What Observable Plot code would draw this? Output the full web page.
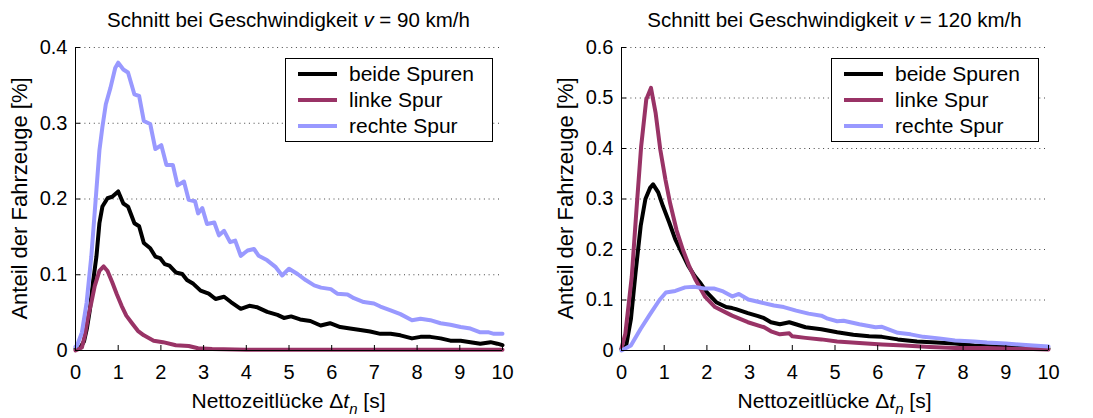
<!DOCTYPE html>
<html>
<head>
<meta charset="utf-8">
<script src="https://cdn.jsdelivr.net/npm/d3@7"></script>
<script src="https://cdn.jsdelivr.net/npm/@observablehq/plot@0.6"></script>
<style>
  body { margin: 0; background: #fff; }
  #charts { display: flex; width: 1093px; height: 418px; }
  svg text { font-family: "Liberation Sans", Arial, sans-serif; }
</style>
</head>
<body>
<div id="charts"></div>
<script>
// Lanes and their line colours
const lanes = ["beide Spuren", "linke Spur", "rechte Spur"];
const laneColors = ["#000000", "#993366", "#9999ff"];

// Tick values
const xTicks = [0, 1, 2, 3, 4, 5, 6, 7, 8, 9, 10];
const yTicks90 = [0, 0.1, 0.2, 0.3, 0.4];
const yTicks120 = [0, 0.1, 0.2, 0.3, 0.4, 0.5, 0.6];

// v = 90 km/h : share of vehicles [%] over net time gap [s]
const t90Beide = [0, 0.1, 0.2, 0.27, 0.34, 0.41, 0.49, 0.56, 0.63, 0.75, 0.86, 1.0, 1.12, 1.23, 1.38, 1.49, 1.6, 1.75, 1.87, 1.98, 2.09, 2.2, 2.35, 2.5, 2.61, 2.76, 2.93, 3.12, 3.28, 3.48, 3.64, 3.87, 4.07, 4.26, 4.49, 4.73, 4.88, 5.05, 5.26, 5.5, 5.74, 5.96, 6.2, 6.43, 6.67, 6.9, 7.14, 7.38, 7.61, 7.88, 8.08, 8.31, 8.55, 8.78, 9.02, 9.25, 9.48, 9.72, 9.88, 10];
const v90Beide = [0.002, 0.003, 0.012, 0.03, 0.055, 0.09, 0.124, 0.168, 0.19, 0.201, 0.203, 0.21, 0.194, 0.19, 0.168, 0.164, 0.142, 0.135, 0.124, 0.122, 0.114, 0.112, 0.103, 0.101, 0.093, 0.088, 0.079, 0.075, 0.068, 0.071, 0.064, 0.055, 0.059, 0.057, 0.051, 0.047, 0.043, 0.045, 0.041, 0.039, 0.033, 0.036, 0.031, 0.029, 0.027, 0.025, 0.022, 0.022, 0.020, 0.016, 0.018, 0.018, 0.016, 0.013, 0.013, 0.011, 0.009, 0.011, 0.009, 0.007];

const t90Links = [0, 0.15, 0.22, 0.3, 0.37, 0.45, 0.56, 0.66, 0.75, 0.86, 0.97, 1.08, 1.19, 1.31, 1.46, 1.6, 1.83, 2.05, 2.35, 2.65, 2.87, 3.2, 4, 5, 6, 7, 8, 9, 10];
const v90Links = [0, 0.004, 0.02, 0.046, 0.063, 0.085, 0.105, 0.111, 0.105, 0.09, 0.074, 0.059, 0.046, 0.037, 0.026, 0.02, 0.013, 0.011, 0.007, 0.006, 0.003, 0.002, 0.001, 0.001, 0.001, 0.001, 0.001, 0.001, 0.001];

const t90Rechts = [0, 0.04, 0.15, 0.26, 0.37, 0.49, 0.56, 0.63, 0.71, 0.82, 0.93, 1.0, 1.12, 1.23, 1.38, 1.49, 1.6, 1.75, 1.87, 2.01, 2.13, 2.28, 2.39, 2.54, 2.65, 2.8, 2.87, 2.97, 3.08, 3.25, 3.36, 3.48, 3.62, 3.74, 3.87, 4.03, 4.18, 4.29, 4.49, 4.69, 4.84, 5.0, 5.2, 5.39, 5.59, 5.75, 5.98, 6.13, 6.37, 6.52, 6.75, 6.99, 7.14, 7.38, 7.61, 7.88, 8.08, 8.31, 8.55, 8.78, 9.02, 9.25, 9.48, 9.68, 9.8, 10];
const v90Rechts = [0.005, 0.007, 0.024, 0.063, 0.124, 0.212, 0.264, 0.295, 0.325, 0.347, 0.373, 0.38, 0.371, 0.367, 0.338, 0.336, 0.303, 0.299, 0.266, 0.271, 0.245, 0.245, 0.218, 0.223, 0.199, 0.197, 0.181, 0.188, 0.167, 0.169, 0.152, 0.158, 0.143, 0.145, 0.125, 0.132, 0.134, 0.125, 0.119, 0.110, 0.099, 0.108, 0.101, 0.093, 0.086, 0.083, 0.081, 0.075, 0.074, 0.069, 0.064, 0.062, 0.058, 0.053, 0.048, 0.040, 0.042, 0.040, 0.036, 0.034, 0.031, 0.029, 0.024, 0.024, 0.022, 0.022];

// v = 120 km/h
const t120Beide = [0, 0.11, 0.22, 0.33, 0.45, 0.56, 0.67, 0.74, 0.86, 0.97, 1.12, 1.26, 1.41, 1.56, 1.71, 1.86, 2.0, 2.23, 2.45, 2.59, 2.68, 2.96, 3.2, 3.34, 3.5, 3.71, 3.93, 4.31, 4.68, 5.05, 5.43, 5.8, 6.1, 6.47, 6.92, 7.37, 7.81, 8.26, 8.71, 9.0, 9.5, 10];
const v120Beide = [0.003, 0.01, 0.062, 0.155, 0.247, 0.3, 0.322, 0.329, 0.313, 0.286, 0.253, 0.22, 0.194, 0.168, 0.148, 0.132, 0.115, 0.095, 0.086, 0.084, 0.082, 0.074, 0.068, 0.064, 0.056, 0.052, 0.056, 0.046, 0.042, 0.036, 0.031, 0.028, 0.027, 0.022, 0.018, 0.016, 0.014, 0.010, 0.008, 0.007, 0.005, 0.004];

const t120Links = [0, 0.09, 0.24, 0.35, 0.46, 0.58, 0.69, 0.8, 0.91, 1.03, 1.14, 1.29, 1.44, 1.59, 1.74, 1.96, 2.19, 2.45, 2.59, 2.96, 3.34, 3.5, 3.71, 3.93, 4.0, 4.31, 4.68, 5.05, 5.57, 6.1, 6.62, 7.22, 7.81, 8.56, 9.3, 9.64, 10];
const v120Links = [0.005, 0.033, 0.146, 0.278, 0.404, 0.497, 0.52, 0.47, 0.397, 0.338, 0.291, 0.238, 0.199, 0.166, 0.139, 0.106, 0.086, 0.075, 0.069, 0.056, 0.046, 0.038, 0.032, 0.034, 0.028, 0.025, 0.022, 0.018, 0.015, 0.012, 0.010, 0.007, 0.005, 0.005, 0.003, 0.003, 0.002];

const t120Rechts = [0, 0.22, 0.45, 0.67, 0.89, 1.04, 1.26, 1.49, 1.71, 1.93, 2.16, 2.38, 2.6, 2.75, 2.97, 3.27, 3.57, 3.8, 4.09, 4.38, 4.68, 4.83, 5.05, 5.2, 5.57, 5.95, 6.1, 6.47, 6.77, 7.07, 7.44, 7.81, 8.26, 8.56, 9.0, 9.3, 9.64, 10];
const v120Rechts = [0, 0.01, 0.043, 0.072, 0.1, 0.115, 0.118, 0.125, 0.126, 0.123, 0.123, 0.117, 0.107, 0.112, 0.101, 0.095, 0.089, 0.086, 0.079, 0.073, 0.069, 0.063, 0.058, 0.059, 0.052, 0.046, 0.047, 0.035, 0.032, 0.027, 0.024, 0.020, 0.018, 0.016, 0.014, 0.012, 0.010, 0.008];

const FONT = "Liberation Sans, Arial, sans-serif";

function rows(t, v, lane) {
  return t.map((x, i) => ({t: x, v: v[i], lane}));
}

function panel({speed, yTicks, series, width}) {
  const data = series.flatMap(([t, v, lane]) => rows(t, v, lane));
  const yMax = yTicks[yTicks.length - 1];
  const plotRight = 502;
  const svg = Plot.plot({
    width,
    height: 418,
    marginTop: 47,
    marginBottom: 68,
    marginLeft: 75,
    marginRight: width - plotRight,
    style: {fontFamily: FONT, fontSize: "20px", background: "white", color: "black", overflow: "visible"},
    x: {domain: [0, 10]},
    y: {domain: [0, yMax]},
    color: {domain: lanes, range: laneColors},
    marks: [
      // dotted horizontal grid
      Plot.ruleY(yTicks.filter(d => d > 0), {stroke: "#444", strokeDasharray: "1,3.7"}),
      // distributions
      Plot.line(data, {x: "t", y: "v", z: "lane", stroke: "lane", strokeWidth: 4, strokeLinejoin: "round"}),
      // axis lines
      Plot.ruleX([0], {stroke: "black"}),
      Plot.ruleY([0], {stroke: "black"}),
      // inward tick marks
      Plot.ruleX(xTicks, {y1: 0, y2: 0, insetBottom: 5, stroke: "black"}),
      Plot.ruleY(yTicks, {x1: 0, x2: 0, insetRight: -5, stroke: "black"}),
      // tick labels
      Plot.axisX({ticks: xTicks, tickSize: 0, tickPadding: 14, stroke: "none", label: null, tickFormat: d => String(d)}),
      Plot.axisY({ticks: yTicks, tickSize: 0, tickPadding: 8, stroke: "none", label: null, tickFormat: d3.format("~g")})
    ]
  });

  const s = d3.select(svg);
  const cx = (75 + plotRight) / 2;

  // title with italic v
  const title = s.append("text")
    .attr("x", cx).attr("y", 27)
    .attr("text-anchor", "middle")
    .style("font-size", "20.5px");
  title.append("tspan").text("Schnitt bei Geschwindigkeit ");
  title.append("tspan").attr("font-style", "italic").text("v");
  title.append("tspan").text(` = ${speed} km/h`);

  // x-axis label with subscript
  const xl = s.append("text")
    .attr("x", cx).attr("y", 408)
    .attr("text-anchor", "middle")
    .style("font-size", "21px");
  xl.append("tspan").text("Nettozeitlücke Δ");
  xl.append("tspan").attr("font-style", "italic").text("t");
  xl.append("tspan").attr("font-style", "italic").attr("dy", 6).style("font-size", "15px").text("n");
  xl.append("tspan").attr("dy", -6).text(" [s]");

  // y-axis label
  s.append("text")
    .attr("transform", `translate(27,${(47 + 350) / 2}) rotate(-90)`)
    .attr("text-anchor", "middle")
    .style("font-size", "22px")
    .text("Anteil der Fahrzeuge [%]");

  // legend box
  const lg = s.append("g");
  lg.append("rect")
    .attr("x", 285.5).attr("y", 58.5)
    .attr("width", 207).attr("height", 83)
    .attr("fill", "white").attr("stroke", "black");
  lanes.forEach((name, i) => {
    const y = 74 + i * 26;
    lg.append("line")
      .attr("x1", 298).attr("x2", 337).attr("y1", y).attr("y2", y)
      .attr("stroke", laneColors[i]).attr("stroke-width", 4);
    lg.append("text")
      .attr("x", 349).attr("y", y).attr("dy", "0.35em")
      .attr("text-anchor", "start")
      .style("font-size", "21px")
      .text(name);
  });

  return svg;
}

const host = document.getElementById("charts");
host.append(panel({
  speed: 90,
  yTicks: yTicks90,
  width: 546,
  series: [
    [t90Beide, v90Beide, lanes[0]],
    [t90Links, v90Links, lanes[1]],
    [t90Rechts, v90Rechts, lanes[2]]
  ]
}));
host.append(panel({
  speed: 120,
  yTicks: yTicks120,
  width: 547,
  series: [
    [t120Beide, v120Beide, lanes[0]],
    [t120Links, v120Links, lanes[1]],
    [t120Rechts, v120Rechts, lanes[2]]
  ]
}));
</script>
</body>
</html>
